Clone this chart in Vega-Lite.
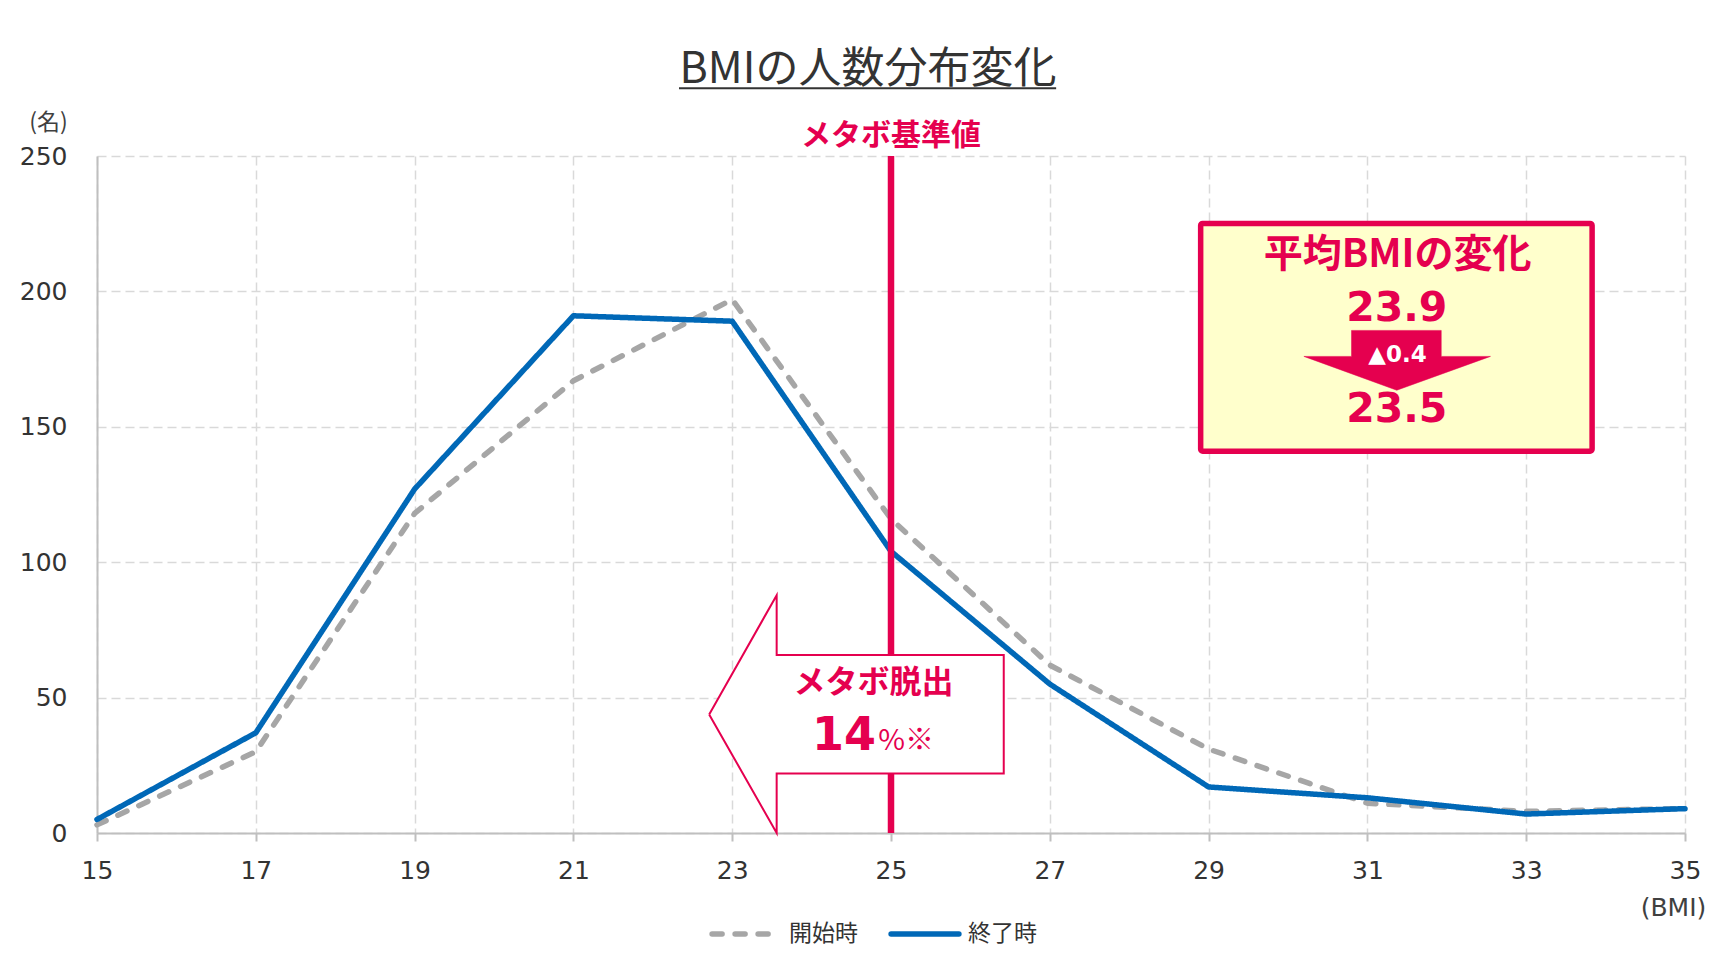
{
  "$schema": "https://vega.github.io/schema/vega-lite/v6.json",
  "autosize": "none",
  "width": 1588,
  "height": 677,
  "padding": {"left": 97, "top": 156, "right": 34, "bottom": 140},
  "background": "#FFFFFF",
  "title": {
    "text": "BMIの人数分布変化",
    "font": "Noto Sans CJK JP",
    "fontSize": 43,
    "fontWeight": "normal",
    "color": "#333333",
    "anchor": "middle",
    "frame": "group",
    "dx": -23,
    "dy": 5,
    "offset": 0
  },
  "config": {
    "view": {"stroke": null},
    "axis": {
      "labelFont": "DejaVu Sans",
      "labelColor": "#333333",
      "labelFontSize": 25,
      "gridColor": "#D9D9D9",
      "gridWidth": 1.5,
      "gridDash": [9, 5],
      "domainColor": "#BFBFBF",
      "domainWidth": 2,
      "tickColor": "#BFBFBF",
      "tickWidth": 2,
      "titleFont": "DejaVu Sans",
      "titleFontWeight": "normal",
      "titleColor": "#404040",
      "titleFontSize": 25
    }
  },
  "encoding": {
    "x": {
      "field": "bmi",
      "type": "quantitative",
      "scale": {"domain": [15, 35], "nice": false, "zero": false},
      "axis": {
        "values": [15, 17, 19, 21, 23, 25, 27, 29, 31, 33, 35],
        "tickSize": 8,
        "labelPadding": 17,
        "labelFlush": false,
        "title": "(BMI)",
        "titleAngle": 0,
        "titleAlign": "center",
        "titleBaseline": "middle",
        "titleX": 1576,
        "titleY": 74
      }
    },
    "y": {
      "field": "n",
      "type": "quantitative",
      "scale": {"domain": [0, 250], "nice": false},
      "axis": {
        "values": [0, 50, 100, 150, 200, 250],
        "ticks": false,
        "labelPadding": 30,
        "title": "(名)",
        "titleFont": "Noto Sans CJK JP",
        "titleFontSize": 23,
        "titleAngle": 0,
        "titleAlign": "center",
        "titleBaseline": "middle",
        "titleX": -49,
        "titleY": -34
      }
    }
  },
  "layer": [
    {
      "data": {
        "values": [
          {"bmi": 15, "n": 3, "series": "開始時"},
          {"bmi": 17, "n": 30, "series": "開始時"},
          {"bmi": 19, "n": 118, "series": "開始時"},
          {"bmi": 21, "n": 167, "series": "開始時"},
          {"bmi": 23, "n": 197, "series": "開始時"},
          {"bmi": 25, "n": 116, "series": "開始時"},
          {"bmi": 27, "n": 62, "series": "開始時"},
          {"bmi": 29, "n": 31, "series": "開始時"},
          {"bmi": 31, "n": 11, "series": "開始時"},
          {"bmi": 33, "n": 8, "series": "開始時"},
          {"bmi": 35, "n": 9, "series": "開始時"},
          {"bmi": 15, "n": 5, "series": "終了時"},
          {"bmi": 17, "n": 37, "series": "終了時"},
          {"bmi": 19, "n": 127, "series": "終了時"},
          {"bmi": 21, "n": 191, "series": "終了時"},
          {"bmi": 23, "n": 189, "series": "終了時"},
          {"bmi": 25, "n": 104, "series": "終了時"},
          {"bmi": 27, "n": 55, "series": "終了時"},
          {"bmi": 29, "n": 17, "series": "終了時"},
          {"bmi": 31, "n": 13, "series": "終了時"},
          {"bmi": 33, "n": 7, "series": "終了時"},
          {"bmi": 35, "n": 9, "series": "終了時"}
        ]
      },
      "mark": {"type": "line", "strokeWidth": 5.5, "strokeCap": "round", "strokeJoin": "round"},
      "encoding": {
        "color": {
          "field": "series",
          "type": "nominal",
          "scale": {"domain": ["開始時", "終了時"], "range": ["#A6A6A6", "#0068B7"]},
          "legend": {
            "title": null,
            "orient": "none",
            "direction": "horizontal",
            "legendX": 612,
            "legendY": 741,
            "symbolType": "stroke",
            "symbolSize": 4600,
            "symbolStrokeWidth": 5.5,
            "labelFont": "Noto Sans CJK JP",
            "labelFontSize": 23,
            "labelColor": "#333333",
            "labelOffset": 6,
            "columnPadding": 22,
            "encode": {"symbols": {"update": {"strokeCap": {"value": "round"}}}}
          }
        },
        "strokeDash": {
          "field": "series",
          "type": "nominal",
          "scale": {"domain": ["開始時", "終了時"], "range": [[10, 13], [1, 0]]},
          "legend": {
            "title": null,
            "orient": "none",
            "direction": "horizontal",
            "legendX": 612,
            "legendY": 741,
            "symbolType": "stroke",
            "symbolSize": 4600,
            "symbolStrokeWidth": 5.5,
            "labelFont": "Noto Sans CJK JP",
            "labelFontSize": 23,
            "labelColor": "#333333",
            "labelOffset": 6,
            "columnPadding": 22,
            "encode": {"symbols": {"update": {"strokeCap": {"value": "round"}}}}
          }
        }
      }
    },
    {
      "data": {"values": [{"bmi": 25, "n": 0, "n2": 250}]},
      "mark": {"type": "rule", "color": "#E5004F", "strokeWidth": 6.5},
      "encoding": {"y2": {"field": "n2"}}
    },
    {
      "data": {
        "values": [
          {"i": 1, "bmi": 22.71, "n": 43.8},
          {"i": 2, "bmi": 23.56, "n": 87.8},
          {"i": 3, "bmi": 23.56, "n": 65.7},
          {"i": 4, "bmi": 26.42, "n": 65.7},
          {"i": 5, "bmi": 26.42, "n": 22.0},
          {"i": 6, "bmi": 23.56, "n": 22.0},
          {"i": 7, "bmi": 23.56, "n": 0},
          {"i": 8, "bmi": 22.71, "n": 43.8}
        ]
      },
      "mark": {"type": "line", "fill": "#FFFFFF", "stroke": "#E5004F", "strokeWidth": 2, "strokeJoin": "miter"},
      "encoding": {"order": {"field": "i", "type": "quantitative"}}
    },
    {
      "data": {"values": [{"bmi": 28.9, "bmi2": 33.83, "n": 225.1, "n2": 141.0}]},
      "mark": {"type": "rect", "fill": "#FFFFCC", "stroke": "#E5004F", "strokeWidth": 5.5, "cornerRadius": 2},
      "encoding": {"x2": {"field": "bmi2"}, "y2": {"field": "n2"}}
    },
    {
      "data": {
        "values": [
          {"i": 1, "bmi": 30.8, "n": 185.6},
          {"i": 2, "bmi": 31.93, "n": 185.6},
          {"i": 3, "bmi": 31.93, "n": 176.0},
          {"i": 4, "bmi": 32.55, "n": 176.0},
          {"i": 5, "bmi": 31.37, "n": 163.5},
          {"i": 6, "bmi": 30.2, "n": 176.0},
          {"i": 7, "bmi": 30.8, "n": 176.0},
          {"i": 8, "bmi": 30.8, "n": 185.6}
        ]
      },
      "mark": {"type": "line", "fill": "#E5004F", "stroke": "#E5004F", "strokeWidth": 0.5, "strokeJoin": "miter"},
      "encoding": {"order": {"field": "i", "type": "quantitative"}}
    },
    {
      "data": {"values": [{"bmi": 25, "n": 257.3, "label": "メタボ基準値"}]},
      "mark": {"type": "text", "font": "Noto Sans CJK JP", "fontWeight": "bold", "fontSize": 30, "color": "#E5004F", "align": "center", "baseline": "middle"},
      "encoding": {"text": {"field": "label"}}
    },
    {
      "data": {"values": [{"bmi": 24.78, "n": 55.5, "label": "メタボ脱出"}]},
      "mark": {"type": "text", "font": "Noto Sans CJK JP", "fontWeight": "bold", "fontSize": 32, "color": "#E5004F", "align": "center", "baseline": "middle"},
      "encoding": {"text": {"field": "label"}}
    },
    {
      "data": {"values": [{"bmi": 31.38, "n": 213.3, "label": "平均BMIの変化"}]},
      "mark": {"type": "text", "font": "Noto Sans CJK JP", "fontWeight": "bold", "fontSize": 39, "color": "#E5004F", "align": "center", "baseline": "middle"},
      "encoding": {"text": {"field": "label"}}
    },
    {
      "data": {
        "values": [
          {"bmi": 31.37, "n": 193.6, "label": "23.9"},
          {"bmi": 31.37, "n": 156.1, "label": "23.5"}
        ]
      },
      "mark": {"type": "text", "font": "DejaVu Sans", "fontWeight": "bold", "fontSize": 41, "color": "#E5004F", "align": "center", "baseline": "middle"},
      "encoding": {"text": {"field": "label"}}
    },
    {
      "data": {"values": [{"bmi": 31.38, "n": 176.6, "label": "▲0.4"}]},
      "mark": {"type": "text", "font": "DejaVu Sans", "fontWeight": "bold", "fontSize": 23, "color": "#FFFFFF", "align": "center", "baseline": "middle"},
      "encoding": {"text": {"field": "label"}}
    },
    {
      "data": {"values": [{"bmi": 24.81, "n": 30.6, "label": "14"}]},
      "mark": {"type": "text", "font": "DejaVu Sans", "fontWeight": "bold", "fontSize": 46, "color": "#E5004F", "align": "right", "baseline": "alphabetic"},
      "encoding": {"text": {"field": "label"}}
    },
    {
      "data": {"values": [{"bmi": 24.84, "n": 30.6, "label": "%※"}]},
      "mark": {"type": "text", "font": "Noto Sans CJK JP", "fontWeight": "normal", "fontSize": 29, "color": "#E5004F", "align": "left", "baseline": "alphabetic"},
      "encoding": {"text": {"field": "label"}}
    },
    {
      "data": {"values": [{"bmi": 22.33, "bmi2": 27.08, "n": 275}]},
      "mark": {"type": "rule", "color": "#333333", "strokeWidth": 2},
      "encoding": {"x2": {"field": "bmi2"}}
    }
  ]
}
